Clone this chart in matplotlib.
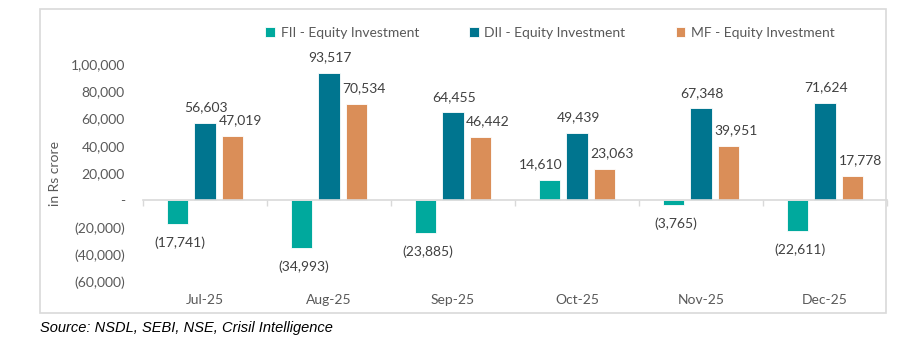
import numpy as np
import matplotlib.pyplot as plt
from matplotlib.patches import Rectangle
from matplotlib.ticker import FuncFormatter

# Monthly equity flows (Rs crore)
months = ['Jul-25', 'Aug-25', 'Sep-25', 'Oct-25', 'Nov-25', 'Dec-25']
fii = [-17741, -34993, -23885, 14610, -3765, -22611]
dii = [56603, 93517, 64455, 49439, 67348, 71624]
mf = [47019, 70534, 46442, 23063, 39951, 17778]
series_names = ['FII - Equity Investment', 'DII - Equity Investment', 'MF - Equity Investment']
colors = ['#00A99D', '#00758F', '#DA8E58']

plt.rcParams['font.family'] = ['Lato', 'DejaVu Sans']
label_col = '#404040'
tick_col = '#595959'


def indian(v):
    # 100000 -> 1,00,000 ; negatives in brackets ; zero as dash
    n = int(round(abs(v)))
    if n == 0:
        return '-'
    s = str(n)
    if len(s) > 3:
        head, tail = s[:-3], s[-3:]
        parts = []
        while len(head) > 2:
            parts.insert(0, head[-2:])
            head = head[:-2]
        if head:
            parts.insert(0, head)
        s = ','.join(parts) + ',' + tail
    return f'({s})' if v < 0 else s


W, H = 915, 346
fig = plt.figure(figsize=(W / 100, H / 100), dpi=100)
ax = fig.add_axes([143 / W, 1 - 282 / H, (887 - 143) / W, (282 - 64) / H])

x = np.arange(len(months))
bw = 0.175
off = 0.222
# label nudges (points) per series, as the source chart shifts them
x_nudge_pos = [-6, 1, 5.4]
x_nudge_neg = [1.5, 0, 0]
all_bars = []
for i, (vals, name, c) in enumerate(zip([fii, dii, mf], series_names, colors)):
    bars = ax.bar(x + (i - 1) * off, vals, bw, color=c, edgecolor='white',
                  linewidth=0.6, label=name, zorder=2)
    all_bars.append(bars)
    for b, v in zip(bars, vals):
        xc = b.get_x() + b.get_width() / 2
        if v >= 0:
            ax.annotate(indian(v), (xc, v), xytext=(x_nudge_pos[i], 11.3),
                        textcoords='offset points', ha='center', va='center',
                        fontsize=10, color=label_col)
        else:
            ax.annotate(indian(v), (xc, v), xytext=(x_nudge_neg[i], -13.3),
                        textcoords='offset points', ha='center', va='center',
                        fontsize=10, color=label_col)

ax.set_xlim(-0.5, len(months) - 0.5)
ax.set_ylim(-60000, 100000)
ax.set_yticks(np.arange(-60000, 100001, 20000))
ax.yaxis.set_major_formatter(FuncFormatter(lambda v, p: indian(v)))
ax.tick_params(axis='y', length=0, pad=13, labelsize=10, labelcolor=tick_col)

for s in ['top', 'right', 'left']:
    ax.spines[s].set_visible(False)
ax.spines['bottom'].set_position(('data', 0))
ax.spines['bottom'].set_color('#D9D9D9')
ax.spines['bottom'].set_linewidth(1.2)
ax.set_xticks(np.arange(-0.5, len(months), 1.0))
ax.set_xticklabels([])
ax.tick_params(axis='x', length=4, width=1, color='#D9D9D9')

for xi, m in zip(x, months):
    ax.text(xi, -0.083, m, transform=ax.get_xaxis_transform(), ha='center',
            va='center', fontsize=10, color=tick_col)

fig.text(55 / W, 1 - 173 / H, 'in Rs crore', rotation=90, ha='center',
         va='center', fontsize=10, color=tick_col)

fig.legend(handles=all_bars, labels=series_names, loc='center',
           bbox_to_anchor=(550 / W, 1 - 33 / H), ncol=3, frameon=False,
           fontsize=10, handlelength=0.7, handleheight=0.7, handletextpad=0.4,
           columnspacing=3.6, labelcolor=tick_col)

fig.add_artist(Rectangle((40 / W, 1 - 313 / H), (886 - 40) / W, (313 - 9) / H,
                         transform=fig.transFigure, fill=False,
                         edgecolor='#D9D9D9', linewidth=1.2))

fig.text(40 / W, 1 - 328 / H, 'Source: NSDL, SEBI, NSE, Crisil Intelligence',
         ha='left', va='center', fontsize=10.5, style='italic',
         family='Liberation Sans', color='black')

fig.savefig('out.png', dpi=100)
